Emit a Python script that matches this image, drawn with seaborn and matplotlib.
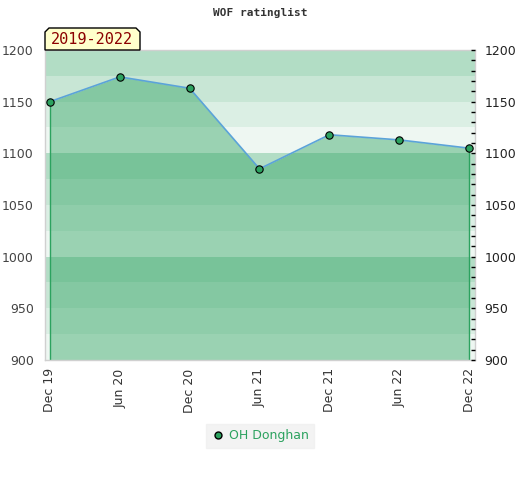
import numpy as np
import pandas as pd
import seaborn as sns
import matplotlib.pyplot as plt
from matplotlib.patches import Polygon
from matplotlib.lines import Line2D

# data
months = ['Dec 19', 'Jun 20', 'Dec 20', 'Jun 21', 'Dec 21', 'Jun 22', 'Dec 22']
rating = [1150, 1174, 1163, 1085, 1118, 1113, 1105]
player = 'OH Donghan'
period = '2019-2022'

green = '#2ca25f'
band_base = '#2ca25f'
line_blue = '#5ba3d9'

sns.set_style('white')
plt.rcParams['font.family'] = ['DejaVu Sans']

df = pd.DataFrame({'x': np.arange(len(months)), 'rating': rating})

fig = plt.figure(figsize=(5.2, 4.8), dpi=100)
ax = fig.add_axes([45 / 520, 1 - 360 / 480, 430 / 520, 310 / 480])

# background bands, 4 per hundred, darker towards the top of each block
band_alpha = [0.08, 0.17, 0.26, 0.36]
for lo in range(900, 1200, 25):
    a = band_alpha[((lo - 900) // 25) % 4]
    ax.axhspan(lo, lo + 25, color=band_base, alpha=a, lw=0, zorder=0)

ax.fill_between(df['x'], 900, df['rating'], color=band_base, alpha=0.43, lw=0, zorder=1)
ax.vlines([df['x'].iloc[0], df['x'].iloc[-1]], 900, [rating[0], rating[-1]],
          color=green, lw=1, zorder=2)
sns.lineplot(data=df, x='x', y='rating', color=line_blue, lw=1.2, ax=ax, zorder=3)
sns.scatterplot(data=df, x='x', y='rating', color=green, edgecolor='black',
                linewidth=0.8, s=28, ax=ax, zorder=4)

ax.set_xlim(-0.07, 6.085)
ax.set_ylim(900, 1200)
ax.set_xlabel('')
ax.set_ylabel('')
ax.set_xticks(df['x'])
ax.set_xticklabels(months, rotation=90, fontsize=9, color='#333333')
ax.set_yticks(range(900, 1201, 50))
ax.tick_params(axis='y', length=0, labelsize=9, labelcolor='#444444', pad=8)
ax.tick_params(axis='x', length=0, pad=6)
for s in ax.spines.values():
    s.set_color('#d0d0d0')
    s.set_linewidth(1)

ax2 = ax.twinx()
ax2.set_ylim(900, 1200)
ax2.set_yticks(range(900, 1201, 50))
ax2.set_yticks(range(900, 1201, 10), minor=True)
ax2.tick_params(axis='y', which='both', direction='in', length=3, width=1, color='black',
                labelsize=9, labelcolor='#222222', pad=7)
for s in ax2.spines.values():
    s.set_visible(False)

fig.text(0.5, 1 - 13 / 480, 'WOF ratinglist', ha='center', va='center',
         family='DejaVu Sans Mono', fontweight='bold', fontsize=8, color='#333333')

# period label with clipped top corners
px = [(45, 50), (45, 32), (49, 28), (136, 28), (140, 32), (140, 50)]
poly = Polygon([(x / 520, 1 - y / 480) for x, y in px], closed=True,
               transform=fig.transFigure, facecolor='#ffffcc', edgecolor='black', lw=1)
fig.patches.append(poly)
fig.text(92 / 520, 1 - 40 / 480, period, ha='center', va='center',
         family='DejaVu Sans Mono', fontsize=11, color='#8b0000')

handle = Line2D([], [], marker='o', ls='', markerfacecolor=green,
                markeredgecolor='black', markersize=5)
leg = fig.legend([handle], [player], loc='center', bbox_to_anchor=(0.5, 1 - 436 / 480),
                 frameon=True, facecolor='#f0f0f0', edgecolor='#f0f0f0', fancybox=False,
                 fontsize=9, handletextpad=0.4, handlelength=1.0, borderpad=0.45,
                 borderaxespad=0)
for t in leg.get_texts():
    t.set_color(green)

fig.savefig('out.png', dpi=100)
